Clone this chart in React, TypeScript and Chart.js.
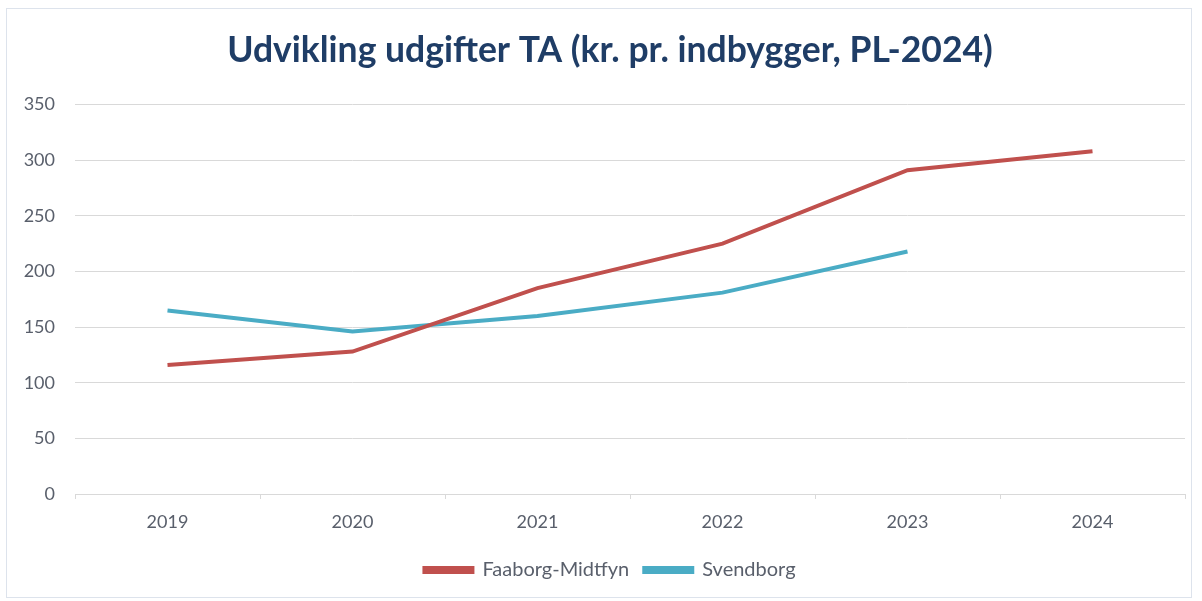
import React, { useEffect, useRef } from "react";
import { Chart, registerables } from "chart.js";

Chart.register(...registerables);

const years = ["2019", "2020", "2021", "2022", "2023", "2024"];
const faaborgValues = [116, 128, 185, 225, 291, 308];
const svendborgValues: (number | null)[] = [165, 146, 160, 181, 218, null];
const titleText = "Udvikling udgifter TA (kr. pr. indbygger, PL-2024)";
const seriesNames = ["Faaborg-Midtfyn", "Svendborg"];

export default function App() {
  const ref = useRef<HTMLCanvasElement>(null);
  useEffect(() => {
    if (!ref.current) return;
    const chart = new Chart(ref.current, {
      type: "line",
      data: {
        labels: years,
        datasets: [
          {
            label: seriesNames[0],
            data: faaborgValues,
            borderColor: "#c0504d",
            backgroundColor: "#c0504d",
            borderWidth: 4,
            pointRadius: 0,
            tension: 0,
            spanGaps: false,
          },
          {
            label: seriesNames[1],
            data: svendborgValues,
            borderColor: "#4aacc5",
            backgroundColor: "#4aacc5",
            borderWidth: 4,
            pointRadius: 0,
            tension: 0,
            spanGaps: false,
          },
        ],
      },
      options: {
        animation: false,
        responsive: false,
        maintainAspectRatio: false,
        layout: { padding: { left: 35, right: 17, top: 29, bottom: 11 } },
        plugins: {
          title: {
            display: true,
            text: titleText,
            color: "#1f3d66",
            font: { family: "Lato", size: 35.5, weight: "bold" },
            padding: { top: 0, bottom: 33 },
          },
          legend: {
            position: "bottom",
            labels: {
              boxWidth: 48,
              boxHeight: 4,
              color: "#595f6b",
              font: { family: "Lato", size: 20 },
              padding: 15,
            },
          },
          tooltip: { enabled: false },
        },
        scales: {
          x: {
            offset: true,
            grid: {
              drawOnChartArea: false,
              drawTicks: true,
              tickLength: 5,
              offset: true,
              color: "#d9d9d9",
            },
            border: { display: true, color: "#d9d9d9", width: 1 },
            ticks: {
              color: "#595f6b",
              font: { family: "Lato", size: 18, lineHeight: 1 },
              padding: 14,
            },
          },
          y: {
            min: 0,
            max: 350,
            afterFit: (scale: any) => {
              scale.width = 40;
              scale._computeLabelArea = () => undefined;
            },
            ticks: {
              stepSize: 50,
              color: "#595f6b",
              font: { family: "Lato", size: 18 },
              padding: 20,
            },
            grid: { color: "#d9d9d9", drawTicks: false },
            border: { display: false },
          },
        },
      },
    });
    return () => chart.destroy();
  }, []);
  return (
    <div style={{ position: "absolute", left: 0, top: 0, width: 1202, height: 601, background: "#ffffff" }}>
      <div
        style={{
          position: "absolute",
          left: 6,
          top: 8,
          width: 1186,
          height: 590,
          border: "1px solid #dde3ec",
          boxSizing: "border-box",
        }}
      />
      <canvas ref={ref} width={1202} height={601} style={{ position: "absolute", left: 0, top: 0 }} />
    </div>
  );
}
